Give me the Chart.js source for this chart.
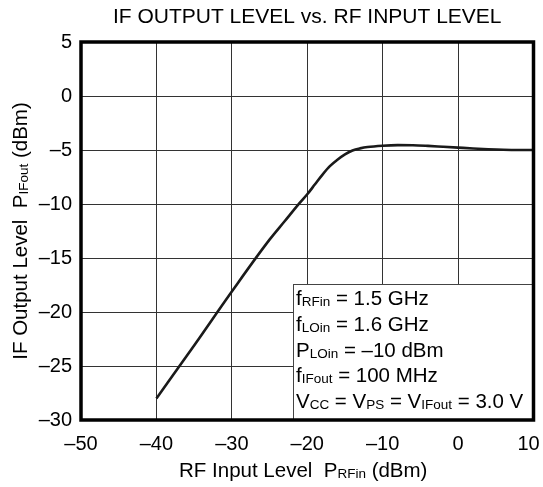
<!DOCTYPE html>
<html>
<head>
<meta charset="utf-8">
<script src="https://cdn.jsdelivr.net/npm/chart.js@4"></script>
<style>
  html, body { margin: 0; padding: 0; background: #fff; }
  canvas { display: block; }
</style>
</head>
<body>
<canvas id="ifChart" width="543" height="487"></canvas>
<script>
// values
const rfInput = [-40, -35, -30, -25, -23, -21, -20, -19, -18, -17, -16, -15, -14, -13, -12, -10, -8, -6, -4, -2, 0, 2, 4, 6, 8, 10];
const ifOutput = [-28, -23.1, -18.1, -13.3, -11.6, -9.9, -9.1, -8.2, -7.3, -6.5, -5.9, -5.4, -5.05, -4.85, -4.72, -4.6, -4.55, -4.56, -4.62, -4.7, -4.78, -4.86, -4.93, -4.98, -5.0, -5.0];

const xTicks = [-50, -40, -30, -20, -10, 0, 10];
const yTicks = [-30, -25, -20, -15, -10, -5, 0, 5];

const chartTitle = 'IF OUTPUT LEVEL vs. RF INPUT LEVEL';
// [main text, subscript] pairs for each text line
const xTitle = [['RF Input Level  P', ''], ['', 'RFin'], [' (dBm)', '']];
const yTitle = [['IF Output Level  P', ''], ['', 'IFout'], [' (dBm)', '']];
const conditions = [
  [['f', ''], ['', 'RFin'], [' = 1.5 GHz', '']],
  [['f', ''], ['', 'LOin'], [' = 1.6 GHz', '']],
  [['P', ''], ['', 'LOin'], [' = \u201310 dBm', '']],
  [['f', ''], ['', 'IFout'], [' = 100 MHz', '']],
  [['V', ''], ['', 'CC'], [' = V', ''], ['', 'PS'], [' = V', ''], ['', 'IFout'], [' = 3.0 V', '']]
];

const FONT = '"Liberation Sans", Arial, sans-serif';
const dash = v => String(v).replace('-', '\u2013');

function richWidth(ctx, parts, size, subSize) {
  let w = 0;
  parts.forEach(p => {
    ctx.font = size + 'px ' + FONT;
    w += ctx.measureText(p[0]).width;
    ctx.font = subSize + 'px ' + FONT;
    w += ctx.measureText(p[1]).width;
  });
  return w;
}

function drawRich(ctx, parts, x, y, size, subSize) {
  ctx.textBaseline = 'alphabetic';
  ctx.textAlign = 'left';
  parts.forEach(p => {
    if (p[0]) {
      ctx.font = size + 'px ' + FONT;
      ctx.fillText(p[0], x, y);
      x += ctx.measureText(p[0]).width;
    }
    if (p[1]) {
      ctx.font = subSize + 'px ' + FONT;
      ctx.fillText(p[1], x, y + 1);
      x += ctx.measureText(p[1]).width;
    }
  });
}

const decorations = {
  id: 'decorations',
  afterDraw(chart) {
    const ctx = chart.ctx;
    const a = chart.chartArea;
    ctx.save();
    ctx.fillStyle = '#000';

    // title
    ctx.font = '21px ' + FONT;
    ctx.textAlign = 'center';
    ctx.textBaseline = 'alphabetic';
    ctx.fillText(chartTitle, (a.left + a.right) / 2, 23);

    // x axis title
    let w = richWidth(ctx, xTitle, 20.5, 13.5);
    drawRich(ctx, xTitle, (a.left + a.right) / 2 - 4 - w / 2, 477, 20.5, 13.5);

    // y axis title (rotated)
    ctx.save();
    ctx.translate(27, (a.top + a.bottom) / 2);
    ctx.rotate(-Math.PI / 2);
    w = richWidth(ctx, yTitle, 20.5, 13.5);
    drawRich(ctx, yTitle, -w / 2, 0, 20.5, 13.5);
    ctx.restore();

    // conditions box
    const bx = 293, by = 284;
    ctx.fillStyle = '#fff';
    ctx.fillRect(bx, by, a.right - bx, a.bottom - by);
    ctx.strokeStyle = '#444';
    ctx.lineWidth = 1;
    ctx.strokeRect(bx + 0.5, by + 0.5, a.right - bx, a.bottom - by);
    ctx.fillStyle = '#000';
    conditions.forEach((line, i) => {
      drawRich(ctx, line, 296, 305 + i * 25.8, 20.5, 13.5);
    });

    // heavy plot frame
    ctx.strokeStyle = '#000';
    ctx.lineWidth = 3.5;
    ctx.strokeRect(a.left, a.top, a.right - a.left, a.bottom - a.top);
    ctx.restore();
  }
};

new Chart(document.getElementById('ifChart'), {
  type: 'line',
  data: {
    datasets: [{
      data: rfInput.map((x, i) => ({ x: x, y: ifOutput[i] })),
      borderColor: '#1a1a1a',
      borderWidth: 2.6,
      pointRadius: 0,
      cubicInterpolationMode: 'monotone',
      fill: false
    }]
  },
  options: {
    responsive: false,
    animation: false,
    layout: { padding: { top: 42, right: 9.5, left: 0, bottom: 0 } },
    plugins: { legend: { display: false }, tooltip: { enabled: false } },
    scales: {
      x: {
        type: 'linear', min: -50, max: 10,
        afterBuildTicks: s => { s.ticks = xTicks.map(v => ({ value: v })); },
        afterFit: s => { s.height = 67; s.paddingLeft = 0; s.paddingRight = 0; },
        grid: { color: '#333', lineWidth: 1, drawTicks: false },
        border: { display: false },
        ticks: {
          color: '#000', padding: 12, maxRotation: 0, font: { family: FONT, size: 20 },
          // last label sits a little inside the edge, as in the reference
          callback: v => v === 10 ? '10\u2002' : dash(v)
        }
      },
      y: {
        type: 'linear', min: -30, max: 5,
        afterBuildTicks: s => { s.ticks = yTicks.map(v => ({ value: v })); },
        afterFit: s => { s.width = 81; },
        grid: { color: '#333', lineWidth: 1, drawTicks: false },
        border: { display: false },
        ticks: { color: '#000', padding: 9, font: { family: FONT, size: 20 }, callback: v => dash(v) }
      }
    }
  },
  plugins: [decorations]
});
</script>
</body>
</html>
